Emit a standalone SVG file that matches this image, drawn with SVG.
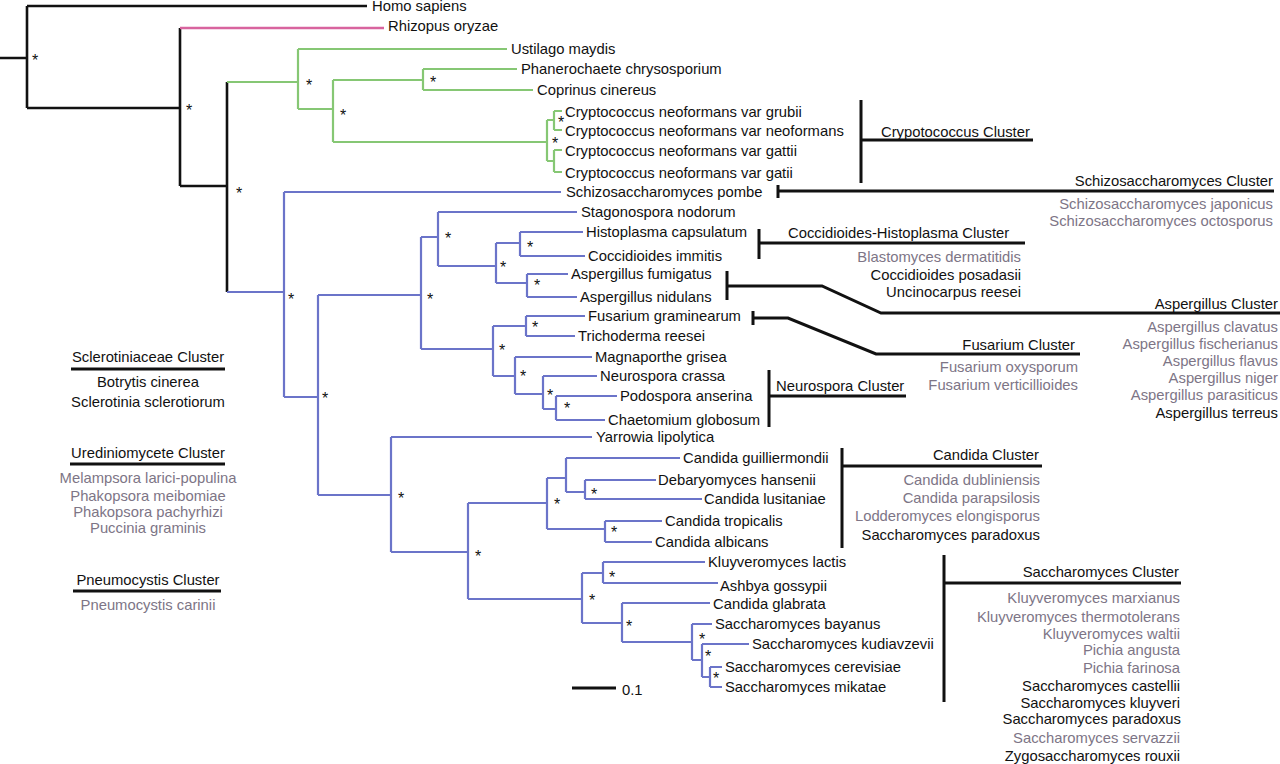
<svg xmlns="http://www.w3.org/2000/svg" width="1280" height="764" viewBox="0 0 1280 764">
<style>
text{font-family:"Liberation Sans",Arial,sans-serif;font-size:14.8px;fill:#111}
.g{fill:#7d7586}
.r{text-anchor:end}
.m{text-anchor:middle}
.st{font-size:16px;text-anchor:middle;fill:#111}
.bk{fill:none;stroke:#111;stroke-width:2.6}
.gr{fill:none;stroke:#86c774;stroke-width:2.2}
.bl{fill:none;stroke:#6b74c9;stroke-width:2.2}
.pk{fill:none;stroke:#d8649e;stroke-width:2.6}
.br{fill:none;stroke:#111;stroke-width:3}
</style>
<rect width="1280" height="764" fill="#fff"/>
<g id="connectors">
<path class="bk" d="M0 58H27M27 6V108M27 6H367M27 108H180M180 28V186M180 186H227M227 82V292"/>
<path class="pk" d="M180 28H384"/>
<path class="gr" d="M227 82H298M298 49V109M298 49H507M298 109H333M333 80V142M333 80H423M423 69V90M423 69H517M423 90H533M333 142H547M547 120V161M547 120H554M554 111V130M554 111H562M554 130H562M547 161H554M554 150V172M554 150H562M554 172H562"/>
<path class="bl" d="M227 292H284M284 192V397M284 192H561M284 397H318M318 295V495M318 295H421M421 237V349M421 237H438M438 212V266M438 212H577M438 266H496M496 243V283M496 243H520M520 232V256M520 232H583M520 256H585M496 283H527M527 274V297M527 274H568M527 297H577M421 349H493M493 326V376M493 326H526M526 316V336M526 316H585M526 336H575M493 376H515M515 357V394M515 357H592M515 394H543M543 376V409M543 376H597M543 409H556M556 396V420M556 396H617M556 420H605"/>
<path class="bl" d="M318 495H391M391 437V552M391 437H592M391 552H468M468 503V599M468 503H547M547 478V529M547 478H566M566 458V492M566 458H680M566 492H585M585 480V499M585 480H656M585 499H702M547 529H605M605 521V542M605 521H662M605 542H652M468 599H582M582 573V623M582 573H603M603 562V583M603 562H705M603 583H718M582 623H622M622 603V642M622 603H710M622 642H692M692 624V660M692 624H712M692 660H702M702 644V677M702 644H749M702 677H710M710 667V687M710 667H722M710 687H722"/>
<path class="br" d="M572 688H616"/>
<path class="br" d="M861 100V183M861 140H1033"/>
<path class="br" d="M778 185V198M778 191H1274"/>
<path class="br" d="M759 229V259M759 243H1025"/>
<path class="br" d="M727 271V300M727 286H822L881 313H1280"/>
<path class="br" d="M753 311V325M753 318H788L876 354H1080"/>
<path class="br" d="M769 370V427M769 396H906"/>
<path class="br" d="M842 448V548M842 466H1042"/>
<path class="br" d="M944 555V702M944 583H1181"/>
<path class="br" d="M71 369H225M70 464H225M73 591H221"/>
</g>
<g id="support">
<text class="st" x="35" y="66">*</text>
<text class="st" x="189" y="116">*</text>
<text class="st" x="239" y="199">*</text>
<text class="st" x="309" y="91">*</text>
<text class="st" x="343" y="121">*</text>
<text class="st" x="433" y="88">*</text>
<text class="st" x="555" y="149">*</text>
<text class="st" x="561" y="128">*</text>
<text class="st" x="291" y="305">*</text>
<text class="st" x="325" y="404">*</text>
<text class="st" x="430" y="305">*</text>
<text class="st" x="448" y="244">*</text>
<text class="st" x="503" y="273">*</text>
<text class="st" x="530" y="253">*</text>
<text class="st" x="537" y="291">*</text>
<text class="st" x="502" y="356">*</text>
<text class="st" x="535" y="333">*</text>
<text class="st" x="523" y="382">*</text>
<text class="st" x="550" y="401">*</text>
<text class="st" x="567" y="414">*</text>
<text class="st" x="401" y="504">*</text>
<text class="st" x="478" y="562">*</text>
<text class="st" x="557" y="510">*</text>
<text class="st" x="594" y="500">*</text>
<text class="st" x="614" y="538">*</text>
<text class="st" x="592" y="606">*</text>
<text class="st" x="612" y="583">*</text>
<text class="st" x="629" y="632">*</text>
<text class="st" x="702" y="645">*</text>
<text class="st" x="708" y="662">*</text>
<text class="st" x="716" y="684">*</text>
</g>
<g id="leaves">
<g id="homo"><text x="372" y="11">Homo sapiens</text></g>
<g id="rhizopus"><text x="388" y="31">Rhizopus oryzae</text></g>
<g id="ustilago"><text x="511" y="54">Ustilago maydis</text></g>
<g id="phanerochaete"><text x="521" y="74">Phanerochaete chrysosporium</text></g>
<g id="coprinus"><text x="537" y="95">Coprinus cinereus</text></g>
<g id="crypto1"><text x="565" y="117">Cryptococcus neoformans var grubii</text></g>
<g id="crypto2"><text x="565" y="136">Cryptococcus neoformans var neoformans</text></g>
<g id="crypto3"><text x="565" y="156">Cryptococcus neoformans var gattii</text></g>
<g id="crypto4"><text x="565" y="178">Cryptococcus neoformans var gatii</text></g>
<g id="spombe"><text x="566" y="197">Schizosaccharomyces pombe</text></g>
<g id="stagonospora"><text x="581" y="217">Stagonospora nodorum</text></g>
<g id="histoplasma"><text x="586" y="237">Histoplasma capsulatum</text></g>
<g id="coccidioides"><text x="588" y="261">Coccidioides immitis</text></g>
<g id="afumigatus"><text x="571" y="279">Aspergillus fumigatus</text></g>
<g id="anidulans"><text x="580" y="302">Aspergillus nidulans</text></g>
<g id="fusarium"><text x="588" y="321">Fusarium graminearum</text></g>
<g id="trichoderma"><text x="578" y="341">Trichoderma reesei</text></g>
<g id="magnaporthe"><text x="595" y="362">Magnaporthe grisea</text></g>
<g id="neurospora"><text x="600" y="381">Neurospora crassa</text></g>
<g id="podospora"><text x="620" y="401">Podospora anserina</text></g>
<g id="chaetomium"><text x="608" y="425">Chaetomium globosum</text></g>
<g id="yarrowia"><text x="596" y="442">Yarrowia lipolytica</text></g>
<g id="cguilliermondii"><text x="683" y="463">Candida guilliermondii</text></g>
<g id="debaryomyces"><text x="658" y="485">Debaryomyces hansenii</text></g>
<g id="clusitaniae"><text x="704" y="504">Candida lusitaniae</text></g>
<g id="ctropicalis"><text x="665" y="526">Candida tropicalis</text></g>
<g id="calbicans"><text x="655" y="547">Candida albicans</text></g>
<g id="klactis"><text x="708" y="567">Kluyveromyces lactis</text></g>
<g id="ashbya"><text x="720" y="591">Ashbya gossypii</text></g>
<g id="cglabrata"><text x="713" y="609">Candida glabrata</text></g>
<g id="sbayanus"><text x="715" y="629">Saccharomyces bayanus</text></g>
<g id="skudiavzevii"><text x="752" y="649">Saccharomyces kudiavzevii</text></g>
<g id="scerevisiae"><text x="725" y="672">Saccharomyces cerevisiae</text></g>
<g id="smikatae"><text x="725" y="692">Saccharomyces mikatae</text></g>
<g id="scale"><text x="622" y="695">0.1</text></g>
</g>
<g id="clusters">
<g id="crypto-cluster"><text x="881" y="137">Crypotococcus Cluster</text></g>
<g id="schizo-cluster">
<text class="r" x="1273" y="186">Schizosaccharomyces Cluster</text>
<text class="r g" x="1273" y="209">Schizosaccharomyces japonicus</text>
<text class="r g" x="1273" y="226">Schizosaccharomyces octosporus</text>
</g>
<g id="cocc-cluster">
<text x="788" y="238">Coccidioides-Histoplasma Cluster</text>
<text class="r g" x="1021" y="262">Blastomyces dermatitidis</text>
<text class="r" x="1021" y="280">Coccidioides posadasii</text>
<text class="r" x="1021" y="297">Uncinocarpus reesei</text>
</g>
<g id="asp-cluster">
<text class="r" x="1278" y="309">Aspergillus Cluster</text>
<text class="r g" x="1278" y="332">Aspergillus clavatus</text>
<text class="r g" x="1278" y="349">Aspergillus fischerianus</text>
<text class="r g" x="1278" y="366">Aspergillus flavus</text>
<text class="r g" x="1278" y="383">Aspergillus niger</text>
<text class="r g" x="1278" y="400">Aspergillus parasiticus</text>
<text class="r" x="1278" y="418">Aspergillus terreus</text>
</g>
<g id="fus-cluster">
<text class="r" x="1075" y="350">Fusarium Cluster</text>
<text class="r g" x="1078" y="372">Fusarium oxysporum</text>
<text class="r g" x="1078" y="390">Fusarium verticillioides</text>
</g>
<g id="neuro-cluster"><text x="776" y="391">Neurospora Cluster</text></g>
<g id="candida-cluster">
<text class="r" x="1039" y="460">Candida Cluster</text>
<text class="r g" x="1040" y="485">Candida dubliniensis</text>
<text class="r g" x="1040" y="503">Candida parapsilosis</text>
<text class="r g" x="1040" y="521">Lodderomyces elongisporus</text>
<text class="r" x="1040" y="540">Saccharomyces paradoxus</text>
</g>
<g id="sacch-cluster">
<text class="r" x="1179" y="577">Saccharomyces Cluster</text>
<text class="r g" x="1180" y="603">Kluyveromyces marxianus</text>
<text class="r g" x="1180" y="622">Kluyveromyces thermotolerans</text>
<text class="r g" x="1180" y="639">Kluyveromyces waltii</text>
<text class="r g" x="1180" y="655">Pichia angusta</text>
<text class="r g" x="1180" y="673">Pichia farinosa</text>
<text class="r" x="1180" y="691">Saccharomyces castellii</text>
<text class="r" x="1180" y="708">Saccharomyces kluyveri</text>
<text class="r" x="1181" y="724">Saccharomyces paradoxus</text>
<text class="r g" x="1180" y="743">Saccharomyces servazzii</text>
<text class="r" x="1180" y="761">Zygosaccharomyces rouxii</text>
</g>
<g id="sclero-cluster">
<text class="m" x="148" y="362">Sclerotiniaceae Cluster</text>
<text class="m" x="148" y="387">Botrytis cinerea</text>
<text class="m" x="148" y="407">Sclerotinia sclerotiorum</text>
</g>
<g id="uredo-cluster">
<text class="m" x="148" y="458">Urediniomycete Cluster</text>
<text class="m g" x="148" y="483">Melampsora larici-populina</text>
<text class="m g" x="148" y="501">Phakopsora meibomiae</text>
<text class="m g" x="148" y="517">Phakopsora pachyrhizi</text>
<text class="m g" x="148" y="533">Puccinia graminis</text>
</g>
<g id="pneumo-cluster">
<text class="m" x="148" y="585">Pneumocystis Cluster</text>
<text class="m g" x="148" y="610">Pneumocystis carinii</text>
</g>
</g>
</svg>
